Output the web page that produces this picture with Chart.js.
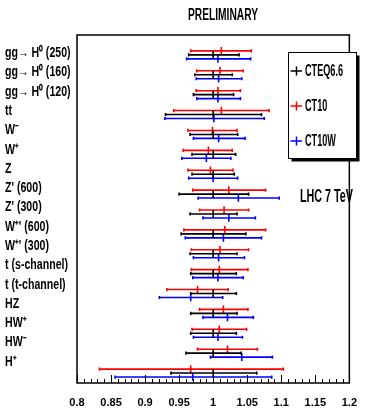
<!DOCTYPE html>
<html><head><meta charset="utf-8">
<script src="https://cdn.jsdelivr.net/npm/chart.js@4.4.0/dist/chart.umd.min.js"></script>
<style>html,body{margin:0;padding:0;background:#fff;}canvas{display:block;}</style>
</head><body>
<canvas id="c" width="370" height="410" style="width:370px;height:410px"></canvas>
<script>
// ---------------- data ----------------
const categories = ["gg\u2192 H\u2070 (250)","gg\u2192 H\u2070 (160)","gg\u2192 H\u2070 (120)","tt","W\u207B","W\u207A","Z","Z' (600)","Z' (300)","W\u207A' (600)","W\u207A' (300)","t (s-channel)","t (t-channel)","HZ","HW\u207A","HW\u207B","H\u207A"];
const xTicks = [0.8,0.85,0.9,0.95,1,1.05,1.1,1.15,1.2];
const seriesNames = ["CTEQ6.6","CT10","CT10W"];
const seriesColors = ["#000000","#ff0000","#0000ff"];

const cteqCenter = [1,1,1,1,1,1,1,1,1,1,1,1,1,1,1,1,1];
const cteqLow    = [0.964,0.973,0.971,0.930,0.966,0.969,0.969,0.950,0.966,0.953,0.966,0.967,0.967,0.967,0.967,0.960,0.938];
const cteqHigh   = [1.038,1.028,1.030,1.071,1.036,1.033,1.031,1.052,1.035,1.048,1.035,1.034,1.034,1.035,1.034,1.041,1.064];

const ct10Center = [1.012,1.010,1.007,1.012,0.999,0.993,0.996,1.023,1.016,1.017,1.010,1.009,0.977,1.015,1.009,1.021,0.967];
const ct10Low    = [0.967,0.976,0.975,0.942,0.963,0.956,0.963,0.970,0.980,0.957,0.968,0.968,0.932,0.980,0.969,0.977,0.833];
const ct10High   = [1.056,1.044,1.040,1.082,1.035,1.028,1.029,1.077,1.052,1.077,1.052,1.051,1.022,1.051,1.049,1.065,1.103];

const ct10wCenter = [1.007,1.008,1.007,1.001,1.008,0.990,1.000,1.037,1.023,1.015,1.008,1.007,0.967,1.021,1.007,1.042,0.970];
const ct10wLow    = [0.961,0.975,0.976,0.929,0.971,0.954,0.964,0.978,0.985,0.959,0.971,0.970,0.921,0.985,0.971,0.996,0.856];
const ct10wHigh   = [1.055,1.042,1.040,1.075,1.047,1.026,1.036,1.097,1.062,1.071,1.046,1.044,1.014,1.059,1.043,1.087,1.086];

// ---------------- font choice (narrowest available bold sans) ----------------
function pickFont() {
  const c = document.createElement('canvas').getContext('2d');
  const cands = [
    {weight: 'bold', family: "'Liberation Sans Narrow', 'Liberation Sans', sans-serif"},
    {weight: 'bold condensed', family: "'DejaVu Sans', sans-serif"},
    {weight: 'bold', family: "'DejaVu Sans Condensed', 'Liberation Sans', sans-serif"},
    {weight: 'bold', family: "'Liberation Sans', sans-serif"}
  ];
  let best = null;
  cands.forEach(o => {
    c.font = '10px serif';
    c.font = o.weight + ' 13px ' + o.family;
    const w = c.measureText('t (s-channel)').width;
    if (!best || w < best.width - 0.5) best = Object.assign({width: w}, o);
  });
  return best;
}
const FONT = pickFont();
const NARROW = FONT.width < 70;      // a condensed face was found
const LABEL_TARGET = 63;             // reference width of "t (s-channel)"

// ---------------- build ----------------
const series = [
  {c: cteqCenter, lo: cteqLow, hi: cteqHigh, off: 0},
  {c: ct10Center, lo: ct10Low, hi: ct10High, off: -0.2},
  {c: ct10wCenter, lo: ct10wLow, hi: ct10wHigh, off: 0.2}
];
const datasets = [];
series.forEach((s, k) => {
  const lineData = [];
  s.lo.forEach((l, i) => {
    lineData.push({x: l, y: i + s.off}, {x: s.hi[i], y: i + s.off}, {x: null, y: null});
  });
  datasets.push({
    type: 'line', label: seriesNames[k], data: lineData,
    borderColor: seriesColors[k], borderWidth: 1.6, pointRadius: 0, pointHitRadius: 0,
    spanGaps: false, fill: false, tension: 0, xAxisID: 'x', yAxisID: 'y'
  });
  const markData = [];
  s.c.forEach((v, i) => {
    markData.push({x: v, y: i + s.off}, {x: s.lo[i], y: i + s.off}, {x: s.hi[i], y: i + s.off});
  });
  datasets.push({
    type: 'scatter', label: seriesNames[k] + ' marks', data: markData,
    showLine: false, pointStyle: 'line', pointRotation: 90,
    pointRadius: ctx => (ctx.dataIndex % 3 === 0 ? 3.8 : 1.6),
    pointBorderColor: seriesColors[k], pointBackgroundColor: seriesColors[k],
    pointBorderWidth: 1.6, pointHoverRadius: 0, xAxisID: 'x', yAxisID: 'y'
  });
});

function fontStr(size) { return FONT.weight + ' ' + size + 'px ' + FONT.family; }
function scaleFor(ctx, text, size, target) {
  ctx.save(); ctx.font = fontStr(size);
  const w = ctx.measureText(text).width; ctx.restore();
  return Math.min(1, target / w);
}
function fitText(ctx, text, x, y, size, scale, align) {
  ctx.save();
  ctx.font = fontStr(size);
  ctx.translate(x, y);
  ctx.scale(scale, 1);
  ctx.textAlign = align; ctx.textBaseline = 'middle'; ctx.fillStyle = '#000';
  ctx.fillText(text, 0, 0);
  ctx.restore();
}

const decor = {
  id: 'decor',
  afterDatasetsDraw(chart) {
    const ctx = chart.ctx, a = chart.chartArea, xs = chart.scales.x, yl = chart.scales.yl;
    ctx.save();
    // frame
    ctx.strokeStyle = '#000'; ctx.lineWidth = 1.5;
    ctx.strokeRect(a.left, a.top, a.right - a.left, a.bottom - a.top);
    // inward ticks on x axis
    ctx.lineWidth = 1;
    for (let v = 80; v <= 120; v++) {
      const px = Math.round(xs.getPixelForValue(v / 100)) + 0.5;
      const len = v % 5 === 0 ? 8 : 4;
      ctx.beginPath(); ctx.moveTo(px, a.bottom); ctx.lineTo(px, a.bottom - len); ctx.stroke();
    }
    // category labels drawn condensed when no narrow face is installed
    if (!NARROW) {
      const s = scaleFor(ctx, 't (s-channel)', 14, LABEL_TARGET);
      categories.forEach((t, i) => fitText(ctx, t, 5, yl.getPixelForValue(i), 14, s, 'left'));
    }
    // legend box with shadow
    const bx = 288.5, by = 52.5, bw = 68, bh = 106;
    ctx.fillStyle = '#000'; ctx.fillRect(bx + 3, by + 3, bw, bh);
    ctx.fillStyle = '#fff'; ctx.fillRect(bx, by, bw, bh);
    ctx.strokeStyle = '#000'; ctx.lineWidth = 1; ctx.strokeRect(bx, by, bw, bh);
    const ly = [71, 106, 141];
    const ls = scaleFor(ctx, seriesNames[0], 16, 38);
    seriesNames.forEach((n, k) => {
      ctx.strokeStyle = seriesColors[k]; ctx.lineWidth = 1.5;
      ctx.beginPath(); ctx.moveTo(290.5, ly[k]); ctx.lineTo(302, ly[k]);
      ctx.moveTo(296.5, ly[k] - 4.5); ctx.lineTo(296.5, ly[k] + 4.5); ctx.stroke();
      fitText(ctx, n, 305, ly[k] + 0.5, 16, ls, 'left');
    });
    // texts
    fitText(ctx, 'LHC 7 TeV', 326.5, 197.5, 18, scaleFor(ctx, 'LHC 7 TeV', 18, 53), 'center');
    fitText(ctx, 'PRELIMINARY', 223, 15.5, 16, scaleFor(ctx, 'PRELIMINARY', 16, 70), 'center');
    ctx.restore();
  }
};

new Chart(document.getElementById('c'), {
  type: 'scatter',
  data: { datasets },
  options: {
    responsive: false, animation: false, devicePixelRatio: 1,
    layout: { padding: { left: 5, right: 7, top: 35, bottom: 0 } },
    plugins: { legend: { display: false }, tooltip: { enabled: false }, title: { display: false } },
    events: [],
    scales: {
      x: {
        type: 'linear', min: 0.8, max: 1.2, position: 'bottom',
        afterBuildTicks: s => { s.ticks = xTicks.map(v => ({ value: v })); },
        afterFit: s => { s.height = 27; },
        ticks: {
          autoSkip: false, maxRotation: 0, padding: 13, color: '#000',
          font: { family: FONT.family, size: NARROW ? 12 : 11, weight: FONT.weight },
          callback: v => String(Number(Number(v).toFixed(2)))
        },
        grid: { display: false, drawTicks: false },
        border: { display: false }
      },
      y: {
        type: 'linear', axis: 'y', min: -1, max: 16.5, reverse: true, display: false
      },
      yl: {
        type: 'linear', axis: 'y', position: 'left', min: -0.95, max: 17.1, reverse: true,
        afterBuildTicks: s => { s.ticks = categories.map((_, i) => ({ value: i })); },
        afterFit: s => { s.width = 72; },
        ticks: {
          display: NARROW, autoSkip: false, crossAlign: 'far', padding: 0, color: '#000',
          font: { family: FONT.family, size: 13, weight: FONT.weight },
          callback: v => categories[v]
        },
        grid: { display: false, drawTicks: false },
        border: { display: false }
      }
    }
  },
  plugins: [decor]
});
</script>
</body></html>
